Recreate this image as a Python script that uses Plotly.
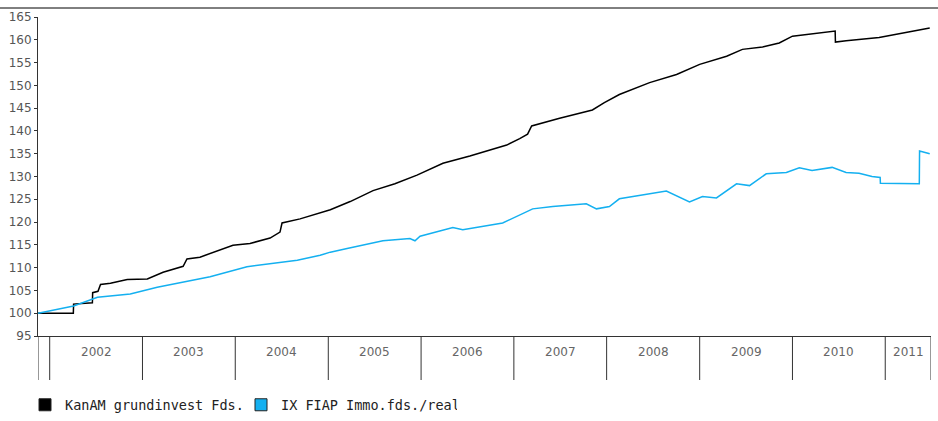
import plotly.graph_objects as go
import pandas as pd

# KanAM grundinvest fund, indexed to 100
kanam_dates = [
    "2001-11-16", "2002-04-04", "2002-04-05", "2002-06-18", "2002-06-19", "2002-07-10",
    "2002-07-20", "2002-08-28", "2002-11-02", "2003-01-20", "2003-03-23", "2003-06-10",
    "2003-06-25", "2003-08-15", "2003-12-23", "2004-02-28", "2004-05-17", "2004-06-25",
    "2004-07-03", "2004-09-12", "2005-01-09", "2005-03-28", "2005-06-26", "2005-09-20",
    "2005-12-16", "2006-03-28", "2006-07-12", "2006-12-04", "2007-01-24", "2007-02-24",
    "2007-03-12", "2007-06-30", "2007-11-06", "2007-12-23", "2008-02-20", "2008-06-18",
    "2008-10-02", "2009-01-01", "2009-04-17", "2009-06-18", "2009-09-05", "2009-11-10",
    "2010-01-01", "2010-04-17", "2010-06-18", "2010-06-19", "2010-07-31", "2010-12-08",
    "2011-06-10", "2011-06-25",
]
kanam_values = [
    100.0, 100.0, 102.0, 102.3, 104.5, 104.8,
    106.3, 106.6, 107.4, 107.5, 109.0, 110.3,
    111.9, 112.3, 114.9, 115.3, 116.5, 117.8,
    119.8, 120.7, 122.7, 124.5, 126.9, 128.4,
    130.3, 132.9, 134.5, 136.9, 138.3, 139.3,
    141.1, 142.8, 144.6, 146.2, 148.0, 150.6,
    152.4, 154.6, 156.4, 157.9, 158.4, 159.3,
    160.8, 161.5, 161.9, 159.5, 159.8, 160.5,
    162.4, 162.6,
]

# IX FIAP open-ended real estate fund index, indexed to 100
fiap_dates = [
    "2001-11-16", "2002-04-05", "2002-07-08", "2002-11-14", "2003-02-28", "2003-09-24",
    "2004-02-16", "2004-09-01", "2004-11-30", "2005-01-09", "2005-03-16", "2005-08-04",
    "2005-11-18", "2005-12-08", "2005-12-28", "2006-05-06", "2006-06-14", "2006-11-18",
    "2007-03-16", "2007-06-03", "2007-10-13", "2007-11-22", "2008-01-12", "2008-02-20",
    "2008-08-23", "2008-10-14", "2008-11-22", "2009-01-12", "2009-03-08", "2009-05-26",
    "2009-07-16", "2009-09-20", "2009-12-08", "2010-01-28", "2010-03-19", "2010-06-06",
    "2010-07-31", "2010-09-20", "2010-11-10", "2010-12-12", "2010-12-13", "2011-05-15",
    "2011-05-16", "2011-06-25",
]
fiap_values = [
    100.0, 101.6, 103.5, 104.2, 105.7, 108.0,
    110.2, 111.6, 112.7, 113.4, 114.2, 115.9,
    116.4, 115.9, 116.9, 118.8, 118.3, 119.8,
    122.9, 123.4, 124.0, 122.9, 123.4, 125.1,
    126.8, 125.5, 124.4, 125.6, 125.3, 128.4,
    128.0, 130.6, 130.9, 131.9, 131.3, 132.0,
    130.9, 130.7, 130.0, 129.8, 128.5, 128.4,
    135.6, 135.0,
]

series_names = ["KanAM grundinvest Fds.", "IX FIAP Immo.fds./real"]
series_colors = ["#000000", "#14b0f0"]

years = list(range(2002, 2012))
x_start, x_end = "2001-11-16", "2011-06-30"
y_ticks = list(range(95, 170, 5))

fig = go.Figure()

for dates, vals, name, color in [
    (kanam_dates, kanam_values, series_names[0], series_colors[0]),
    (fiap_dates, fiap_values, series_names[1], series_colors[1]),
]:
    fig.add_trace(go.Scatter(
        x=dates, y=vals, mode="lines", name=name, showlegend=False,
        line=dict(color=color, width=1.5),
    ))
    # square swatch for the legend
    fig.add_trace(go.Scatter(
        x=[None], y=[None], mode="markers", name=name,
        marker=dict(symbol="square", size=12, color=color,
                    line=dict(color="#222222", width=1)),
    ))

# year band below the plot: separators and centred labels
band_depth = 44 / 319
bounds = [pd.Timestamp(x_start)] + [pd.Timestamp(f"{y}-01-01") for y in years] + [pd.Timestamp(x_end)]
for b in bounds:
    fig.add_shape(type="line", xref="x", yref="paper", x0=b, x1=b, y0=0, y1=-band_depth,
                  line=dict(color="#333333", width=1))
for i, y in enumerate(years):
    left = bounds[i + 1]
    right = bounds[i + 2]
    mid = left + (right - left) / 2
    fig.add_annotation(x=mid, y=-16 / 319, xref="x", yref="paper", text=str(y),
                       showarrow=False, yanchor="middle",
                       font=dict(family="DejaVu Sans", size=12, color="#666666"))

# rule across the top of the chart
fig.add_shape(type="line", xref="paper", yref="paper", x0=-38 / 893, x1=1 + 7 / 893,
              y0=1 + 9 / 319, y1=1 + 9 / 319, line=dict(color="#000000", width=1))

fig.update_layout(
    width=938, height=421,
    margin=dict(l=38, r=7, t=17, b=85, autoexpand=False),
    paper_bgcolor="white", plot_bgcolor="white",
    showlegend=True,
    legend=dict(orientation="h", x=-13 / 893, xanchor="left",
                y=(336 - 405) / 319, yanchor="middle",
                entrywidth=171, entrywidthmode="pixels",
                font=dict(family="DejaVu Sans Mono", size=13.5, color="#222222"),
                bgcolor="rgba(0,0,0,0)"),
    xaxis=dict(type="date", range=[x_start, x_end], showgrid=False, zeroline=False,
               showline=True, linecolor="#333333", linewidth=1,
               showticklabels=False, ticks=""),
    yaxis=dict(range=[95, 165], tickvals=y_ticks, showgrid=False, zeroline=False,
               showline=True, linecolor="#333333", linewidth=1,
               ticks="outside", ticklen=3, tickcolor="#333333",
               tickfont=dict(family="DejaVu Sans", size=12, color="#555555")),
)

fig.write_html("out.html")
